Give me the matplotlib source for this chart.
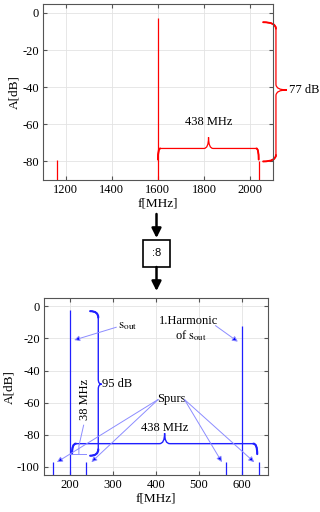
import numpy as np
import matplotlib
matplotlib.use("Agg")
import matplotlib.pyplot as plt
from matplotlib.path import Path
from matplotlib.patches import PathPatch, FancyArrowPatch, Rectangle

plt.rcParams['font.family'] = ['Liberation Serif', 'DejaVu Serif']
plt.rcParams['mathtext.fontset'] = 'stix'
plt.rcParams['axes.unicode_minus'] = False

# spectrum before the divider (red)
top_freq = [1162, 1600, 2038]
top_amp = [-79, -3, -80]
top_xticks = [1200, 1400, 1600, 1800, 2000]
top_yticks = [0, -20, -40, -60, -80]

# spectrum after the :8 divider (blue)
bot_freq = [162, 200, 238, 562, 600, 638]
bot_amp = [-97, -2, -97, -97, -12, -97]
bot_xticks = [200, 300, 400, 500, 600]
bot_yticks = [0, -20, -40, -60, -80, -100]

RED = "#ff0000"
BLUE = "#2020ff"
LBLUE = "#8c8cff"
FS = 9


def brace(ax, a0, a1, c, end_off, tip_off, tip_at, r, rt, vertical=False, color="k", lw=1.0):
    s = np.sign(a1 - a0)
    pts = [(a0, c + end_off), (a0, c), (a0 + s * r, c),
           (tip_at - s * rt, c), (tip_at, c), (tip_at, c + tip_off),
           (tip_at, c), (tip_at + s * rt, c),
           (a1 - s * r, c), (a1, c), (a1, c + end_off)]
    codes = [Path.MOVETO, Path.CURVE3, Path.CURVE3,
             Path.LINETO, Path.CURVE3, Path.CURVE3,
             Path.CURVE3, Path.CURVE3,
             Path.LINETO, Path.CURVE3, Path.CURVE3]
    if vertical:
        pts = [(q, p) for p, q in pts]
    ax.add_patch(PathPatch(Path(pts, codes), fill=False, ec=color, lw=lw, clip_on=False))
    # slightly heavier curled ends
    for k in (0, 8):
        seg = pts[k:k + 3]
        ax.add_patch(PathPatch(Path(seg, [Path.MOVETO, Path.CURVE3, Path.CURVE3]),
                               fill=False, ec=color, lw=lw * 1.5, clip_on=False,
                               capstyle="round"))


def style(ax, xl, yl, xt, yt):
    ax.set_xlim(*xl)
    ax.set_ylim(*yl)
    ax.set_xticks(xt)
    ax.set_yticks(yt)
    ax.grid(True, color="#e3e3e3", lw=0.6)
    ax.set_axisbelow(True)
    ax.tick_params(direction="in", length=3, top=True, right=True, labelsize=FS,
                   color="#555555", pad=3)
    for sp in ax.spines.values():
        sp.set_color("#555555")
        sp.set_linewidth(0.8)
    ax.set_xlabel("f[MHz]", fontsize=FS + 0.5, labelpad=1)
    ax.set_ylabel("A[dB]", fontsize=FS + 0.5, labelpad=1)


fig = plt.figure(figsize=(3.2, 5.12), dpi=100)

# ---- top panel
ax1 = fig.add_axes([0.134, 0.6484, 0.719, 0.3445])
style(ax1, (1100, 2100), (-90, 5), top_xticks, top_yticks)
ax1.vlines(top_freq, top_amp, -90, color=RED, lw=0.9)
brace(ax1, 1600, 2038, -73, -6, 6, 1820, 10, 20, color=RED, lw=0.9)
ax1.text(1820, -59, "438 MHz", ha="center", va="center", fontsize=FS)
brace(ax1, -5, -80, 2113, -56, 48, -41.5, 3.5, 3, vertical=True, color=RED, lw=0.9)
ax1.text(2168, -41.5, "77 dB", ha="left", va="center", fontsize=FS, clip_on=False)

# ---- bottom panel
ax2 = fig.add_axes([0.1375, 0.0723, 0.70, 0.3451])
style(ax2, (140, 660), (-105, 5), bot_xticks, bot_yticks)
ax2.vlines(bot_freq, bot_amp, -105, color=BLUE, lw=0.9)

brace(ax2, -3, -93, 266, -19, 8, -48.5, 4, 3, vertical=True, color=BLUE, lw=1.0)
ax2.text(275, -48.5, "95 dB", ha="left", va="center", fontsize=FS)

brace(ax2, 205, 635, -85.5, -6.5, 6.5, 420, 9, 12, color=BLUE, lw=1.0)
ax2.text(420, -75.5, "438 MHz", ha="center", va="center", fontsize=FS)

# 38 MHz marker
ax2.plot([200, 238], [-92, -92], color=LBLUE, lw=0.7)
ax2.plot([221, 221, 232], [-92, -87, -74], color=LBLUE, lw=0.7)
ax2.text(236, -58, "38 MHz", rotation=90, ha="center", va="center", fontsize=FS)

arrow_kw = dict(arrowstyle="-|>", ec=LBLUE, fc="#0000ff", lw=0.7, mutation_scale=8,
                shrinkA=0, shrinkB=0)
ax2.text(312, -12, r"$\mathrm{s}_{\mathrm{out}}$", ha="left", va="center", fontsize=FS + 0.5)
ax2.annotate("", xy=(210, -21), xytext=(308, -13), arrowprops=arrow_kw)

ax2.text(475, -9, "1.Harmonic", ha="center", va="center", fontsize=FS)
ax2.text(480, -18, r"of $\mathrm{s}_{\mathrm{out}}$", ha="center", va="center", fontsize=FS)
ax2.annotate("", xy=(590, -22), xytext=(538, -12), arrowprops=arrow_kw)

ax2.text(435, -57.5, "Spurs", ha="center", va="center", fontsize=FS)
for tx, sx in [(170, 405), (250, 405), (553, 466), (628, 466)]:
    ax2.annotate("", xy=(tx, -97), xytext=(sx, -58), arrowprops=arrow_kw)

# ---- divider block between panels
ov = fig.add_axes([0, 0, 1, 1], facecolor="none")
ov.set_xlim(0, 320)
ov.set_ylim(512, 0)
ov.axis("off")
cx = 156.5
head = dict(arrowstyle="-|>", color="k", lw=1.8, mutation_scale=14, shrinkA=0, shrinkB=0)
ov.add_patch(FancyArrowPatch((cx, 214), (cx, 238), **head))
ov.add_patch(FancyArrowPatch((cx, 267), (cx, 291), **head))
ov.add_patch(Rectangle((143, 239.5), 27, 27, fill=False, ec="k", lw=1.2))
ov.text(cx, 253, ":8", ha="center", va="center", fontsize=8,
        family=["Liberation Sans", "DejaVu Sans"])

fig.savefig("out.png", dpi=100)
